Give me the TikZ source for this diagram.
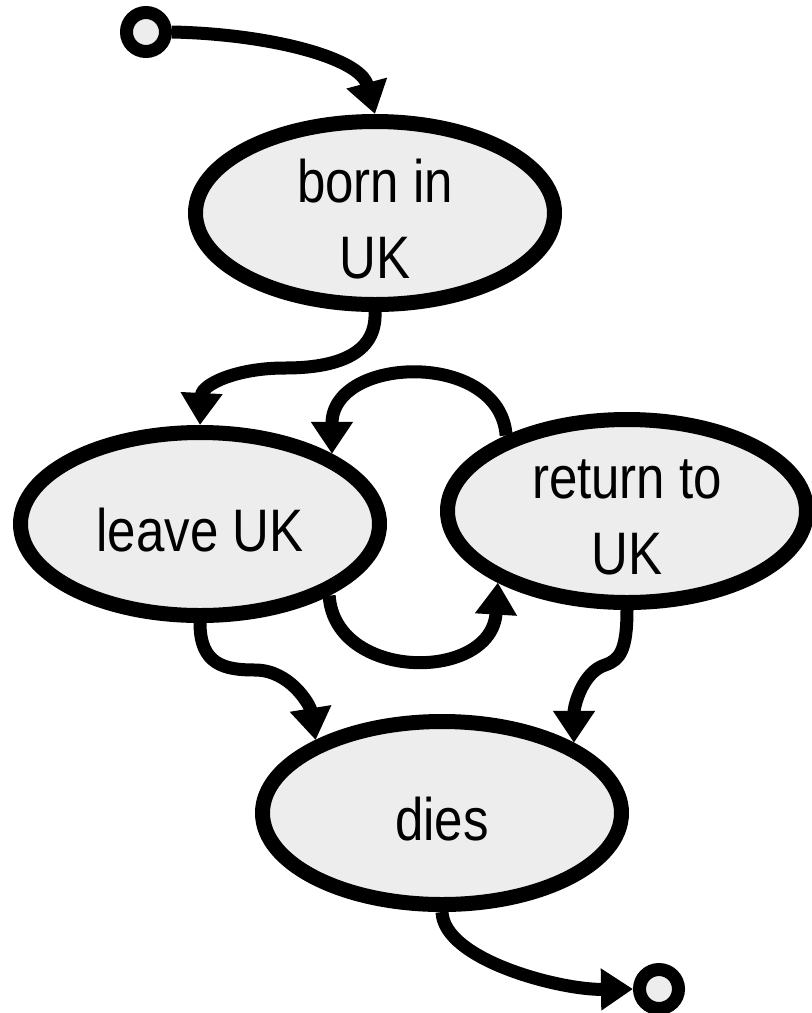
\documentclass[tikz,border=0pt]{standalone}
\usepackage{fontspec}
\setmainfont{Liberation Sans}[FakeStretch=0.85]
\usetikzlibrary{arrows.meta,shapes.geometric}
\definecolor{statefill}{HTML}{EDEDED}
\begin{document}
\begin{tikzpicture}[x=1pt,y=-1pt,
  state/.style={ellipse, draw=black, fill=statefill, line width=15pt,
    minimum width=359pt, minimum height=183pt, inner sep=0pt},
  statetext/.style={align=center, font=\fontsize{60}{76}\selectfont,
    inner sep=0pt, yshift=-6pt},
  terminal/.style={circle, draw=black, fill=statefill, line width=13pt,
    minimum size=39pt, inner sep=0pt},
  flow/.style={line width=13pt, line join=round,
    -{Triangle[length=32pt,width=40pt]}}]
\useasboundingbox (0,0) rectangle (812,1013);

% states
\node[state, label={[statetext]center:{born in\\UK}}] (born) at (375,213) {};
\node[state, label={[statetext]center:{leave UK}}] (leave) at (200,524) {};
\node[state, label={[statetext]center:{return to\\UK}}] (return) at (627,511) {};
\node[state, label={[statetext]center:{dies}}] (dies) at (442,813) {};

% initial and final markers
\node[terminal] (start) at (146,32) {};
\node[terminal] (end) at (659,989) {};

% transitions
\draw[flow] (start.east) .. controls (270,34) and (360,58) .. (born.north);
\draw[flow] (born.south) .. controls (377,355) and (335,368) .. (285,368)
  .. controls (235,368) and (202,385) .. (leave.north);
\draw[flow] (return.148.8) .. controls (500,350) and (332,355) .. (leave.28.6);
\draw[flow] (leave.-29.3) .. controls (335,682) and (492,682) .. (return.-151.1);
\draw[flow] (leave.south) .. controls (200,665) and (225,670) .. (255,670)
  .. controls (290,670) and (310,705) .. (dies.150);
\draw[flow] (return.south) .. controls (627,650) and (620,660) .. (605,665)
  .. controls (583,672) and (574,705) .. (dies.28.7);
\draw[flow] (dies.south) .. controls (444,960) and (560,990) .. (end.west);
\end{tikzpicture}
\end{document}
